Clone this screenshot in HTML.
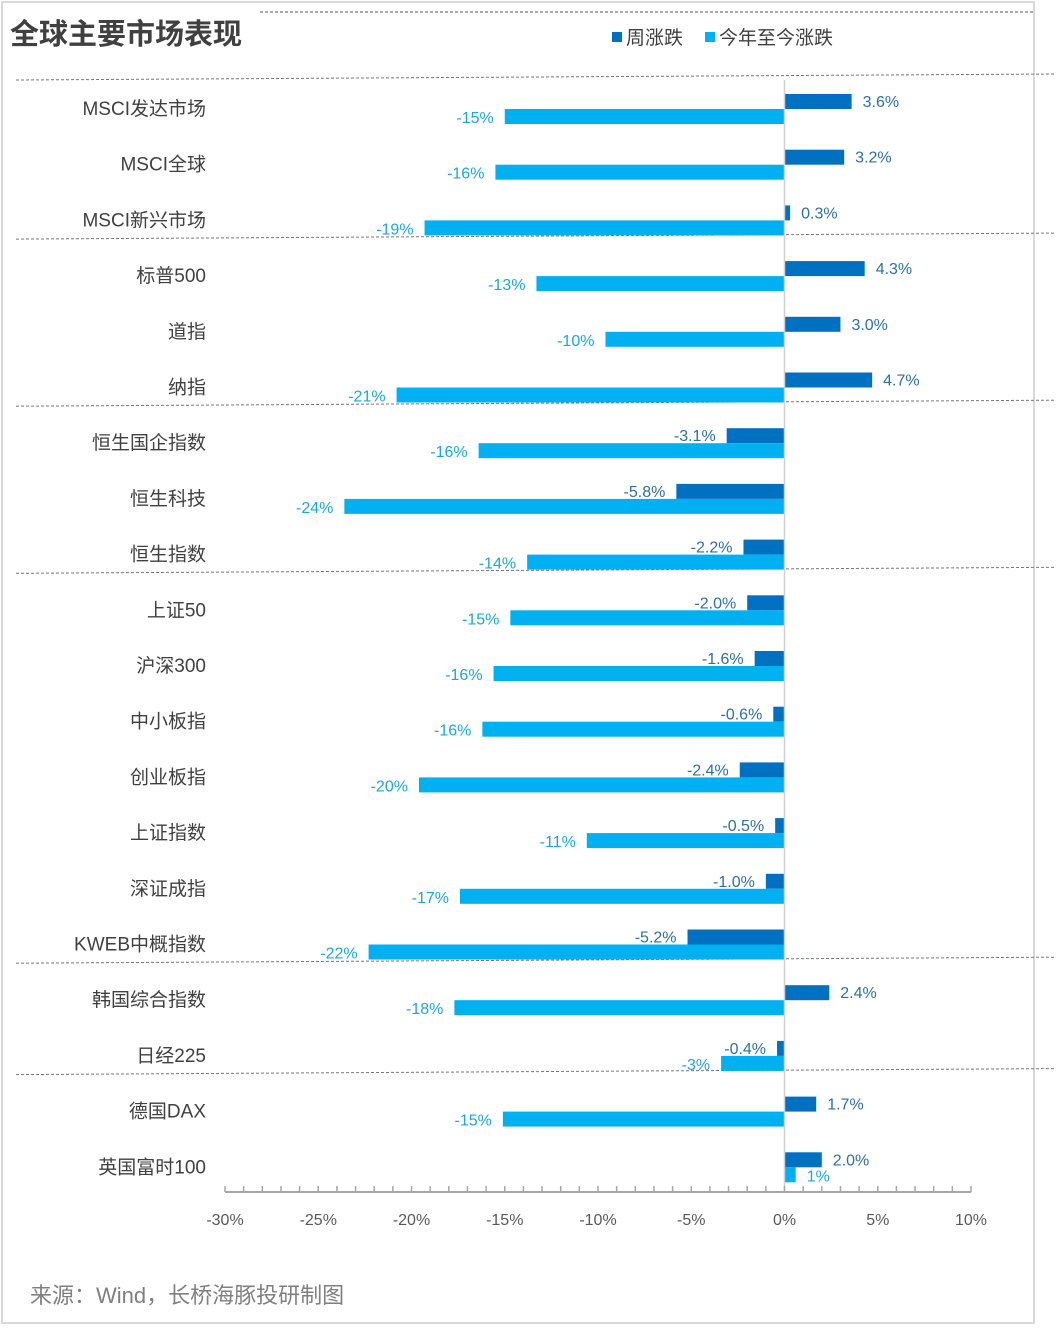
<!DOCTYPE html>
<html><head><meta charset="utf-8">
<style>
html,body{margin:0;padding:0;background:#fff;}
body{width:1056px;height:1326px;overflow:hidden;font-family:"Liberation Sans","Noto Sans CJK SC",sans-serif;}
svg text{font-family:"Liberation Sans","Noto Sans CJK SC",sans-serif;}
</style></head>
<body>
<svg id="chart" width="1056" height="1326" viewBox="0 0 1056 1326" xmlns="http://www.w3.org/2000/svg">
  <rect x="2" y="2" width="1032" height="1321" fill="none" stroke="#d9d9d9" stroke-width="2"/>
  <line x1="260" y1="12" x2="1034" y2="12" stroke="#777" stroke-width="1.2" stroke-dasharray="3,2"/>
  <text x="10" y="44" font-size="29" font-weight="bold" fill="#404040">全球主要市场表现</text>
  <g>
    <rect x="612" y="32" width="10" height="10" fill="#0070C0"/>
    <text x="626" y="44" font-size="19" fill="#404040">周涨跌</text>
    <rect x="705" y="32" width="10" height="10" fill="#00B0F0"/>
    <text x="719" y="44" font-size="19" fill="#404040">今年至今涨跌</text>
  </g>
  <g id="separators"></g>
  <g id="bars"></g>
  <g id="labels"></g>
  <g id="axis"></g>
  <text x="30" y="1303" font-size="22" fill="#7f7f7f">来源：Wind，长桥海豚投研制图</text>
</svg>
<script>
const categories = ["MSCI发达市场","MSCI全球","MSCI新兴市场","标普500","道指","纳指","恒生国企指数","恒生科技","恒生指数","上证50","沪深300","中小板指","创业板指","上证指数","深证成指","KWEB中概指数","韩国综合指数","日经225","德国DAX","英国富时100"];
const weekly = [3.6,3.2,0.3,4.3,3.0,4.7,-3.1,-5.8,-2.2,-2.0,-1.6,-0.6,-2.4,-0.5,-1.0,-5.2,2.4,-0.4,1.7,2.0];
const weeklyLabels = ["3.6%","3.2%","0.3%","4.3%","3.0%","4.7%","-3.1%","-5.8%","-2.2%","-2.0%","-1.6%","-0.6%","-2.4%","-0.5%","-1.0%","-5.2%","2.4%","-0.4%","1.7%","2.0%"];
const ytd = [-15.0,-15.5,-19.3,-13.3,-9.6,-20.8,-16.4,-23.6,-13.8,-14.7,-15.6,-16.2,-19.6,-10.6,-17.4,-22.3,-17.7,-3.4,-15.1,0.6];
const ytdLabels = ["-15%","-16%","-19%","-13%","-10%","-21%","-16%","-24%","-14%","-15%","-16%","-16%","-20%","-11%","-17%","-22%","-18%","-3%","-15%","1%"];
const xTicks = [-30,-25,-20,-15,-10,-5,0,5,10];
const xTickLabels = ["-30%","-25%","-20%","-15%","-10%","-5%","0%","5%","10%"];
const groupBreaks = [0,3,6,9,16,18];

const NS="http://www.w3.org/2000/svg";
const X0=225, X1=971, XMIN=-30, XMAX=10;
const x = v => X0 + (v-XMIN)/(XMAX-XMIN)*(X1-X0);
const ROW0=109, PITCH=55.7, BH=15;
const y = i => ROW0 + i*PITCH;
function mk(tag, attrs, parent){const e=document.createElementNS(NS,tag);for(const k in attrs)e.setAttribute(k,attrs[k]);parent.appendChild(e);return e;}

const sep=document.getElementById('separators');
groupBreaks.forEach((b,k)=>{
  const yy = b===0 ? 80 : y(b)-37;
  const l=mk('line',{x1:16,y1:yy,x2:1055,y2:yy-6,stroke:'#777','stroke-width':1,'stroke-dasharray':'3,2'},sep);
  
  
});

const bars=document.getElementById('bars');
const labs=document.getElementById('labels');
categories.forEach((c,i)=>{
  const cy=y(i);
  const t=mk('text',{x:206,y:cy+6,'font-size':19,'text-anchor':'end',fill:'#404040'},labs);
  t.textContent=c;
  
  
  const w=weekly[i], xw=x(w), z=x(0);
  const rw=mk('rect',{x:Math.min(xw,z),y:cy-BH,width:Math.abs(xw-z),height:BH,fill:'#0070C0'},bars);
  
  
  const tw=mk('text',{x:w>=0?xw+11:xw-11,y:cy-2,'font-size':16,'text-anchor':w>=0?'start':'end',fill:'#2f6ea6'},bars);
  tw.textContent=weeklyLabels[i];
  
  
  const v=ytd[i], xv=x(v);
  const ry=mk('rect',{x:Math.min(xv,z),y:cy,width:Math.abs(xv-z),height:BH,fill:'#00B0F0'},bars);
  
  
  const ty=mk('text',{x:v>=0?xv+11:xv-11,y:cy+14,'font-size':16,'text-anchor':v>=0?'start':'end',fill:'#1ba6de'},bars);
  ty.textContent=ytdLabels[i];
  
  
});

const ax=document.getElementById('axis');
const zl=mk('line',{x1:x(0),y1:80,x2:x(0),y2:1192,stroke:'#d0d0d0','stroke-width':1.5},ax);


const al=mk('line',{x1:X0,y1:1192,x2:X1,y2:1192,stroke:'#a6a6a6','stroke-width':2},ax);


for(let v=XMIN; v<=XMAX; v++){
  const tk=mk('line',{x1:x(v),y1:1186,x2:x(v),y2:1192,stroke:'#a6a6a6','stroke-width':1.5},ax);
  
  
}
xTicks.forEach((v,k)=>{
  const t=mk('text',{x:x(v),y:1225,'font-size':16,'text-anchor':'middle',fill:'#595959'},ax);
  t.textContent=xTickLabels[k];
  
  
});
</script>
</body></html>
